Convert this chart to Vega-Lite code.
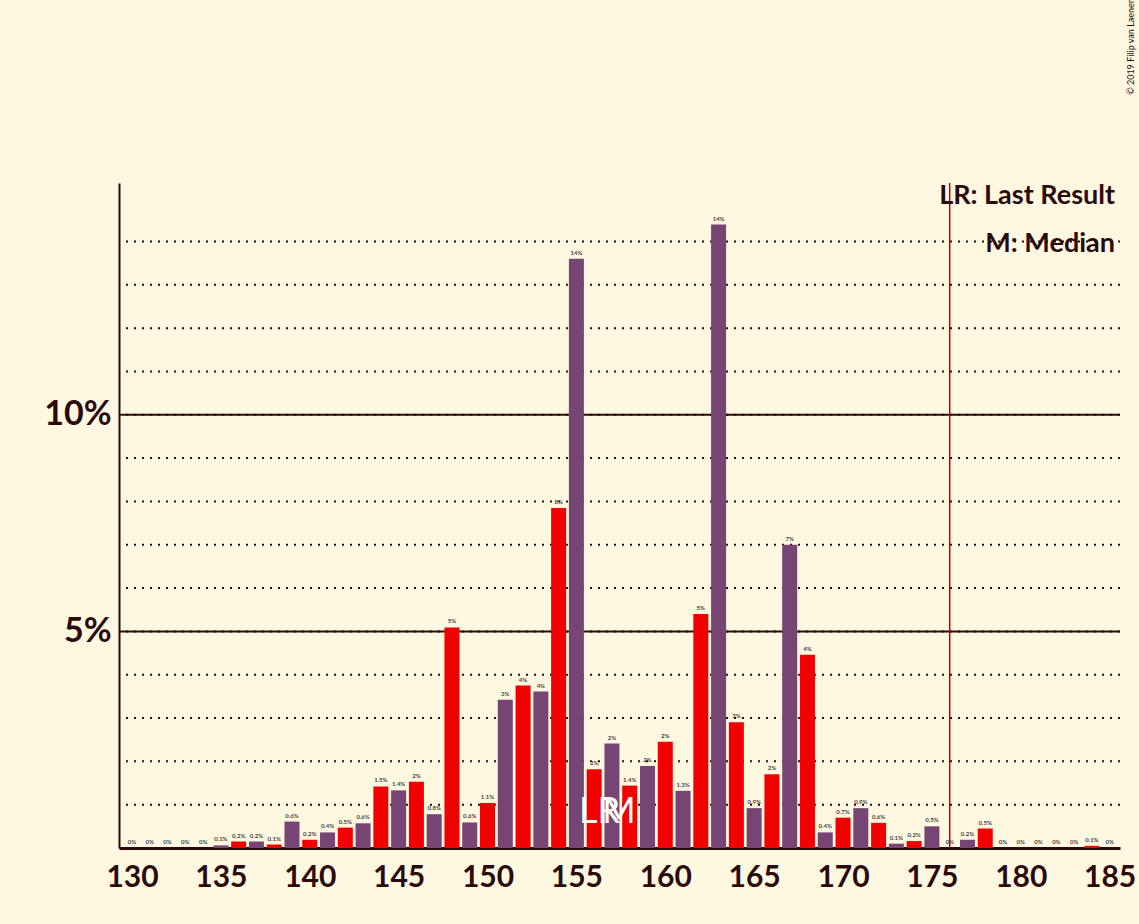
{
  "$schema": "https://vega.github.io/schema/vega-lite/v6.json",
  "autosize": "none",
  "width": 1001,
  "height": 665,
  "padding": {"left": 119, "top": 183, "right": 19, "bottom": 76},
  "background": "#FFF8E1",
  "config": {"view": {"stroke": null}, "font": "Lato"},
  "title": {
    "text": "PSOE – UP",
    "subtitle": ["Probability Mass Function for the Number of Seats in the Congress of Deputies", "Based on an Opinion Poll by Demoscopia y Servicios for ESdiario, 8–11 April 2019"],
    "fontSize": 44, "fontWeight": "bold", "color": "#2A0A0A",
    "subtitleFontSize": 26, "subtitleFontWeight": "bold", "subtitleColor": "#2A0A0A",
    "subtitleLineHeight": 48, "subtitlePadding": 12, "offset": 18, "anchor": "middle", "frame": "group", "dx": -50
  },
  "datasets": {
    "bars": [
      {"s":130,"p":0,"l":"0%"},{"s":131,"p":0,"l":"0%"},{"s":132,"p":0,"l":"0%"},{"s":133,"p":0,"l":"0%"},{"s":134,"p":0,"l":"0%"},
      {"s":135,"p":0.06,"l":"0.1%"},{"s":136,"p":0.15,"l":"0.2%"},{"s":137,"p":0.15,"l":"0.2%"},{"s":138,"p":0.08,"l":"0.1%"},{"s":139,"p":0.61,"l":"0.6%"},
      {"s":140,"p":0.19,"l":"0.2%"},{"s":141,"p":0.36,"l":"0.4%"},{"s":142,"p":0.47,"l":"0.5%"},{"s":143,"p":0.57,"l":"0.6%"},{"s":144,"p":1.42,"l":"1.5%"},
      {"s":145,"p":1.33,"l":"1.4%"},{"s":146,"p":1.53,"l":"2%"},{"s":147,"p":0.78,"l":"0.8%"},{"s":148,"p":5.09,"l":"5%"},{"s":149,"p":0.59,"l":"0.6%"},
      {"s":150,"p":1.04,"l":"1.1%"},{"s":151,"p":3.42,"l":"3%"},{"s":152,"p":3.75,"l":"4%"},{"s":153,"p":3.61,"l":"4%"},{"s":154,"p":7.85,"l":"8%"},
      {"s":155,"p":13.6,"l":"14%"},{"s":156,"p":1.82,"l":"2%"},{"s":157,"p":2.41,"l":"2%"},{"s":158,"p":1.44,"l":"1.4%"},{"s":159,"p":1.89,"l":"2%"},
      {"s":160,"p":2.45,"l":"2%"},{"s":161,"p":1.32,"l":"1.3%"},{"s":162,"p":5.4,"l":"5%"},{"s":163,"p":14.39,"l":"14%"},{"s":164,"p":2.9,"l":"3%"},
      {"s":165,"p":0.92,"l":"0.9%"},{"s":166,"p":1.7,"l":"2%"},{"s":167,"p":7.0,"l":"7%"},{"s":168,"p":4.46,"l":"4%"},{"s":169,"p":0.36,"l":"0.4%"},
      {"s":170,"p":0.7,"l":"0.7%"},{"s":171,"p":0.92,"l":"0.9%"},{"s":172,"p":0.58,"l":"0.6%"},{"s":173,"p":0.1,"l":"0.1%"},{"s":174,"p":0.16,"l":"0.2%"},
      {"s":175,"p":0.5,"l":"0.5%"},{"s":176,"p":0,"l":"0%"},{"s":177,"p":0.19,"l":"0.2%"},{"s":178,"p":0.45,"l":"0.5%"},{"s":179,"p":0,"l":"0%"},
      {"s":180,"p":0,"l":"0%"},{"s":181,"p":0,"l":"0%"},{"s":182,"p":0,"l":"0%"},{"s":183,"p":0,"l":"0%"},{"s":184,"p":0.05,"l":"0.1%"},{"s":185,"p":0,"l":"0%"}
    ],
    "grid": [
      {"y":1,"k":"dot"},{"y":2,"k":"dot"},{"y":3,"k":"dot"},{"y":4,"k":"dot"},{"y":5,"k":"solid"},
      {"y":6,"k":"dot"},{"y":7,"k":"dot"},{"y":8,"k":"dot"},{"y":9,"k":"dot"},{"y":10,"k":"solid"},
      {"y":11,"k":"dot"},{"y":12,"k":"dot"},{"y":13,"k":"dot"},{"y":14,"k":"dot"}
    ],
    "one": [{}]
  },
  "layer": [
    {
      "data": {"name": "grid"},
      "mark": {"type": "rule", "color": "#2A0A0A", "strokeDash": [2, 6], "strokeWidth": 2},
      "encoding": {
        "y": {"field": "y", "type": "quantitative", "scale": {"domain": [0, 15.35], "nice": false},
          "axis": {"values": [5, 10], "labelExpr": "datum.value + '%'", "title": null, "grid": false, "ticks": false,
            "labelFontSize": 34, "labelFontWeight": "bold", "labelColor": "#2A0A0A", "labelPadding": 8, "domainColor": "#2A0A0A", "domainWidth": 2}}
      }
    },
    {
      "data": {"name": "grid"},
      "transform": [{"filter": "datum.k == 'solid'"}],
      "mark": {"type": "rule", "color": "#2A0A0A", "strokeWidth": 2},
      "encoding": {"y": {"field": "y", "type": "quantitative"}}
    },
    {
      "data": {"name": "bars"},
      "mark": {"type": "bar", "width": 15},
      "encoding": {
        "x": {"field": "s", "type": "quantitative", "scale": {"domain": [129.55, 185.3], "nice": false, "zero": false},
          "axis": {"values": [130, 135, 140, 145, 150, 155, 160, 165, 170, 175, 180, 185], "title": null, "grid": false, "ticks": false,
            "labelFontSize": 30, "labelFontWeight": "bold", "labelColor": "#2A0A0A", "labelPadding": 14, "domainColor": "#2A0A0A", "domainWidth": 3}},
        "y": {"field": "p", "type": "quantitative"},
        "color": {"condition": {"test": "datum.s % 2 == 0", "value": "#F00000"}, "value": "#764573"}
      }
    },
    {
      "data": {"name": "bars"},
      "mark": {"type": "text", "fontSize": 6, "dy": -6, "color": "#444444", "fontWeight": "bold"},
      "encoding": {
        "x": {"field": "s", "type": "quantitative"},
        "y": {"field": "p", "type": "quantitative"},
        "text": {"field": "l"}
      }
    },
    {
      "data": {"name": "one"},
      "mark": {"type": "rule", "color": "#C00000", "strokeWidth": 1.5},
      "encoding": {"x": {"datum": 176}}
    },
    {
      "data": {"name": "one"},
      "mark": {"type": "text", "color": "white", "fontSize": 36, "baseline": "bottom"},
      "encoding": {"x": {"datum": 156.3}, "y": {"datum": 0.4}, "text": {"value": "LR"}}
    },
    {
      "data": {"name": "one"},
      "mark": {"type": "text", "color": "white", "fontSize": 36, "baseline": "bottom"},
      "encoding": {"x": {"datum": 157.4}, "y": {"datum": 0.4}, "text": {"value": "M"}}
    },
    {
      "data": {"name": "one"},
      "mark": {"type": "text", "color": "#2A0A0A", "fontSize": 27, "align": "right", "fontWeight": "bold"},
      "encoding": {"x": {"datum": 185.3}, "y": {"datum": 15.05}, "text": {"value": "LR: Last Result"}}
    },
    {
      "data": {"name": "one"},
      "mark": {"type": "text", "color": "#2A0A0A", "fontSize": 27, "align": "right", "fontWeight": "bold"},
      "encoding": {"x": {"datum": 185.3}, "y": {"datum": 13.95}, "text": {"value": "M: Median"}}
    },
    {
      "data": {"name": "one"},
      "mark": {"type": "text", "color": "#2A0A0A", "fontSize": 9, "angle": 270, "clip": false},
      "encoding": {"x": {"datum": 186.2}, "y": {"datum": 18.5}, "text": {"value": "© 2019 Filip van Laenen"}}
    }
  ]
}
